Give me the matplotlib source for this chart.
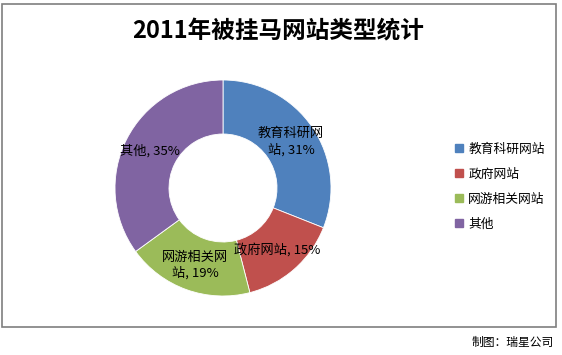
import numpy as np
import matplotlib
matplotlib.use("Agg")
import matplotlib.pyplot as plt
import matplotlib.patches as mpatches

plt.rcParams["font.family"] = ["Noto Sans CJK SC", "DejaVu Sans"]

# data
categories = ["教育科研网站", "政府网站", "网游相关网站", "其他"]
shares = [31, 15, 19, 35]
# label text as wrapped in the original
label_names = ["教育科研网\n站", "政府网站", "网游相关网\n站", "其他"]
colors = ["#4F81BD", "#C0504D", "#9BBB59", "#8064A2"]

fig = plt.figure(figsize=(5.62, 3.55), dpi=100)
fig.patch.set_facecolor("white")

# outer chart frame
frame = mpatches.Rectangle((2 / 562, 1 - 327 / 355), 554 / 562, 323 / 355,
                           transform=fig.transFigure, fill=False,
                           edgecolor="#7f7f7f", linewidth=1.2)
fig.patches.append(frame)

ax = fig.add_axes([(223 - 108) / 562, (355 - 188 - 108) / 355, 216 / 562, 216 / 355])
wedges, _ = ax.pie(shares, colors=colors, startangle=90, counterclock=False,
                   radius=1.0, wedgeprops=dict(width=0.5, edgecolor="white", linewidth=0.6))
ax.set_xlim(-1, 1)
ax.set_ylim(-1, 1)
ax.set_aspect("equal")
ax.axis("off")

for w, name, v in zip(wedges, label_names, shares):
    ang = np.deg2rad((w.theta1 + w.theta2) / 2)
    r = 0.76
    ax.text(r * np.cos(ang), r * np.sin(ang), f"{name}, {v}%",
            ha="center", va="center", fontsize=9.5, color="black",
            linespacing=1.25)

fig.text(0.495, 0.912, "2011年被挂马网站类型统计", ha="center", va="center",
         fontsize=17, fontweight="bold")

handles = [mpatches.Patch(color=c, label=n) for c, n in zip(colors, categories)]
fig.legend(handles=handles, loc="center left", bbox_to_anchor=(0.79, 0.474),
           frameon=False, fontsize=9.2, handlelength=0.6, handleheight=0.6,
           handletextpad=0.4, labelspacing=0.95)

fig.text(0.985, 0.035, "制图：瑞星公司", ha="right", va="center",
         fontsize=8.5, style="italic")

fig.savefig("out.png", dpi=100)
